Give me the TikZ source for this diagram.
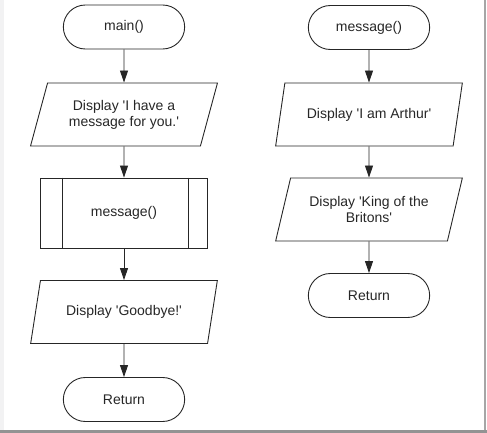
\documentclass[tikz,border=0pt]{standalone}
\usepackage{fontspec}
\setmainfont{Liberation Sans}
\usetikzlibrary{shapes.geometric,shapes.misc,arrows.meta}
\newcommand{\sq}{\textquotesingle}
\begin{document}
\begin{tikzpicture}[x=1pt,y=-1pt,
  every node/.style={font=\fontsize{14}{16}\selectfont, text=black!85},
  term/.style={rounded rectangle, draw=black!85, line width=0.9pt, minimum width=128pt, minimum height=44pt},
  io/.style={trapezium, trapezium left angle=70, trapezium right angle=110, trapezium stretches=true, draw=black!85, line width=0.9pt, minimum width=187pt, minimum height=63pt, align=center},
  sub/.style={rectangle, draw=black!85, line width=0.9pt, minimum width=167pt, minimum height=70pt},
  flow/.style={-{Triangle[length=12pt,width=8pt]}, draw=black!85, line width=0.9pt}]
\useasboundingbox (0,0) rectangle (487,433);
\fill[blue!5!gray!10] (0,0) rectangle (4,430);
\draw[gray!70, line width=1.5pt] (485,0) -- (485,430);
\fill[gray!85] (0,430) rectangle (487,433);
% main program
\node[term] (main) at (124,27){main()};
\node[io] (hello) at (124,114.5){Display \sq I have a\\message for you.\sq};
\node[sub] (call) at (124,213){message()};
\draw[line width=0.9pt, black!85] ([xshift=22pt]call.north west) -- ([xshift=22pt]call.south west);
\draw[line width=0.9pt, black!85] ([xshift=-20pt]call.north east) -- ([xshift=-20pt]call.south east);
\node[io] (bye) at (124,312){Display \sq Goodbye!\sq};
\node[term] (ret1) at (124,399.5){Return};
\draw[flow](main) -- (hello);
\draw[flow](hello) -- (call);
\draw[flow](call) -- (bye);
\draw[flow](bye) -- (ret1);
% message function
\node[term] (msg) at (369,27.5){message()};
\node[io] (arthur) at (369,114.5){Display \sq I am Arthur\sq};
\node[io] (king) at (369,209.5){Display \sq King of the\\Britons\sq};
\node[term] (ret2) at (369,295.5){Return};
\draw[flow](msg) -- (arthur);
\draw[flow](arthur) -- (king);
\draw[flow](king) -- (ret2);

\end{tikzpicture}
\end{document}
